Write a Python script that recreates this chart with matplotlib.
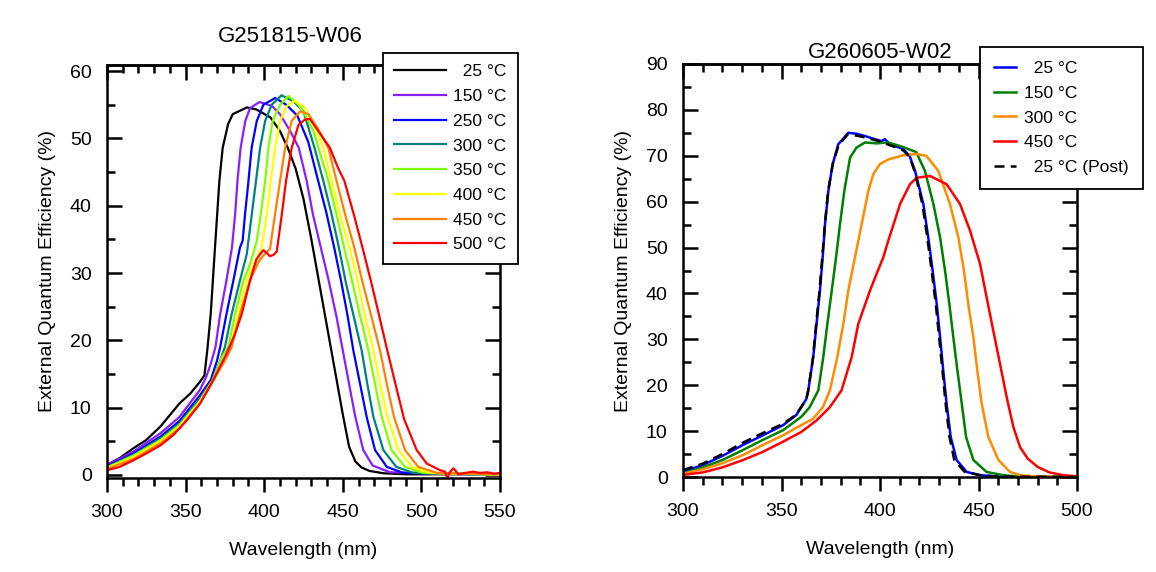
import numpy as np
import matplotlib
matplotlib.use("Agg")
import matplotlib.pyplot as plt
from matplotlib.ticker import MultipleLocator, NullFormatter

plt.rcParams['font.family'] = ['Liberation Sans', 'DejaVu Sans']

# -----------------------------
# Left panel: G251815-W06 (EQE vs wavelength, anneal temperature)
# -----------------------------
left_labels = ["  25 °C", "150 °C", "250 °C", "300 °C", "350 °C", "400 °C", "450 °C", "500 °C"]
left_colors = ["#000000", "#8B1EFF", "#0000FF", "#008080", "#80FF00", "#FFFF00", "#FF8000", "#FF0000"]

wl_25 = [300, 308, 317, 325, 334, 340, 346, 353, 359, 362, 364, 366, 368.7, 371.5, 373.6, 377, 380, 389,
         395, 404, 410, 415, 420, 425, 430, 435, 440, 445, 450, 454, 458, 462, 467, 476, 490, 550]
eqe_25 = [1.5, 2.5, 4.0, 5.2, 7.2, 8.9, 10.6, 12.1, 13.8, 14.8, 19, 24, 33.8, 43.7, 48.6, 52.1, 53.6, 54.6,
          54.3, 53.1, 51.1, 48.6, 45.5, 41, 35, 28.5, 22, 15.5, 9, 4.2, 2.0, 1.1, 0.6, 0.25, 0.1, 0.1]

wl_150 = [300, 317, 334, 346, 359, 363, 366, 369, 372, 376, 379.5, 381.5, 383, 385, 388, 391, 397, 405,
          410, 416.5, 422, 427, 431, 436, 441, 446, 450, 454, 458, 463, 469, 480, 550]
eqe_150 = [1.5, 3.5, 6.2, 8.6, 12.6, 14.5, 16.5, 19, 23.9, 28.9, 33.8, 38.7, 43.7, 48.6, 52.6, 54.5, 55.4, 54.8,
           53.6, 51.1, 48.6, 43.7, 38.7, 33.8, 28.9, 23.5, 18.5, 13.5, 8.6, 3.7, 1.4, 0.4, 0.1]

wl_250 = [300, 317, 334, 346, 359, 366, 370, 372, 376, 380.4, 384.6, 386.3, 387.8, 390, 392, 395.3, 399.5, 407,
          414, 421, 428, 434, 439.5, 444.5, 449, 453, 456.7, 461, 465.2, 470.5, 478, 488.5, 550]
eqe_250 = [1.3, 3.2, 5.7, 8.0, 11.8, 14.1, 17, 19, 23.9, 28.9, 33.8, 34.8, 38.7, 43.7, 48.6, 52.6, 55, 56,
           55, 53.4, 49.5, 44, 39, 33.8, 28.7, 23.7, 18.5, 13.5, 8.6, 3.7, 1.2, 0.3, 0.05]

wl_300 = [300, 317, 334, 346, 359, 367, 372, 375, 379.3, 384.6, 388.9, 392.1, 394.8, 397.4, 400.6, 404.8, 411,
          418.6, 425, 432, 437.6, 442.9, 447.5, 452, 457, 462, 465.6, 469.5, 475.8, 484, 495, 550]
eqe_300 = [1.2, 3.0, 5.4, 7.6, 11.3, 14.1, 17, 19, 23.9, 28.9, 32.8, 38.7, 43.7, 48.6, 52.6, 55, 56.4,
           55.5, 54, 48.6, 43.7, 38.7, 33.8, 28.5, 23.5, 18.5, 13.5, 8.6, 3.7, 1.2, 0.3, 0.05]

wl_350 = [300, 317, 334, 346, 359, 367, 373, 377.2, 381.5, 386.8, 391, 395.3, 397.8, 400.6, 402.7, 405.4, 410.1,
          415.4, 421.8, 426, 431.5, 434.5, 440.8, 446, 451, 456, 461, 466.3, 470.5, 474.8, 481, 489.6, 501, 550]
eqe_350 = [1.1, 2.9, 5.2, 7.4, 11.0, 14, 17.5, 19, 23.9, 28.9, 31.3, 34.8, 38.7, 43.7, 48.6, 52.6, 55,
           56.3, 55, 53.5, 51, 48.6, 43.7, 38.7, 33.6, 28.7, 23.6, 18.5, 13.5, 8.6, 3.7, 1.2, 0.3, 0.05]

wl_400 = [300, 317, 334, 346, 359, 367.5, 374, 378.3, 383.6, 388.9, 394.2, 398.4, 401.6, 404.2, 406.9, 410.1,
          414.3, 419.6, 426, 433.4, 437.6, 442.9, 448.2, 454.5, 459.5, 464, 469.5, 473.7, 478.4, 485.4, 494, 505.5, 550]
eqe_400 = [1.0, 2.7, 5.0, 7.2, 10.8, 14, 17, 19, 23.9, 28.9, 31.8, 33.8, 38.7, 43.7, 48.6, 52.6,
           54.8, 55.6, 54.5, 51.1, 48.6, 43.7, 38.7, 33.6, 28.7, 23.7, 18.5, 13.5, 8.6, 3.7, 1.2, 0.3, 0.05]

wl_450 = [300, 317, 334, 346, 359, 367.6, 375, 379.3, 384.6, 391, 396.3, 399.5, 403.7, 406.9, 410.1, 413.3,
          417.5, 422.8, 428.1, 434, 440.8, 446, 451.5, 457.5, 462.5, 468, 473.7, 478, 482.6, 489.6, 498, 510, 550]
eqe_450 = [0.9, 2.4, 4.7, 6.9, 10.6, 14, 17, 19, 23.9, 28.9, 31.6, 32.6, 33.6, 38.7, 43.7, 48.6,
           52.6, 54, 53.6, 51.5, 48.6, 43.7, 38.7, 33.6, 28.7, 23.7, 18.5, 13.5, 8.6, 3.7, 1.2, 0.3, 0.1]

wl_500 = [300, 308, 317, 325, 334, 342, 350.7, 359.2, 367.6, 376, 381.5, 385.7, 391, 395, 397.4, 399.5, 401.5,
          403.7, 406, 408, 411.2, 413.9, 417.5, 421.8, 426, 429, 434.4, 441.8, 447, 451, 457, 462.5, 468, 473,
          478, 483.5, 489, 497, 503.4, 511.9, 515, 516.5, 518, 520.4, 523.5, 528, 533, 537, 542, 546, 550]
eqe_500 = [0.7, 1.2, 2.2, 3.2, 4.4, 5.9, 8.1, 10.6, 14.1, 18, 21, 23.9, 28.9, 32, 32.8, 33.4, 33,
           32.5, 32.7, 33.2, 38.7, 43.7, 48.6, 52, 52.8, 52.9, 51.1, 48.6, 45.6, 43.7, 38.7, 33.8, 28.7, 23.8,
           18.8, 13.5, 8.3, 3.7, 1.7, 0.7, 0.5, -0.5, 0.4, 1.0, 0.1, 0.3, 0.5, 0.3, 0.4, 0.2, 0.3]

left_wl = [wl_25, wl_150, wl_250, wl_300, wl_350, wl_400, wl_450, wl_500]
left_eqe = [eqe_25, eqe_150, eqe_250, eqe_300, eqe_350, eqe_400, eqe_450, eqe_500]

# -----------------------------
# Right panel: G260605-W02
# -----------------------------
right_labels = ["  25 °C", "150 °C", "300 °C", "450 °C", "  25 °C (Post)"]
right_colors = ["#0000FF", "#008000", "#FF8C00", "#FF0000", "#000000"]
right_styles = ["-", "-", "-", "-", (0, (4, 2.5))]

r_wl_25 = [300, 310, 320, 330.5, 340.6, 350.8, 357.5, 360.1, 362.6, 363.6, 366.1, 367.8, 369.5, 370.9, 372.1,
           373.8, 376, 378.8, 383.9, 388.1, 392.4, 397.5, 400.8, 402.5, 405.1, 408.3, 411.7, 415, 417.8, 422,
           424.5, 426.7, 428.8, 430.5, 432.1, 433.8, 435.9, 438.9, 444, 450.8, 460, 500]
r_eqe_25 = [1.2, 2.6, 4.6, 7.0, 9.1, 11.3, 13.5, 15.3, 17, 18.9, 26.1, 33.4, 40.6, 47.9, 55.1,
            62.4, 68.2, 72.5, 75, 74.8, 74.3, 73.6, 73.2, 73.6, 72.5, 72, 71.5, 70, 66.7, 59.5,
            52.2, 45, 37.7, 30.5, 23.2, 16, 8.7, 3.7, 1.1, 0.4, 0.1, 0.0]

r_wl_150 = [300, 310, 320, 330.5, 340.6, 350.8, 360, 364.3, 368.7, 371.2, 373.3, 375.5, 377.7, 379.7, 381.9,
            384.8, 388.1, 392.4, 398.3, 403.4, 406.6, 411.7, 418.4, 422.8, 427.1, 430.5, 433, 435.2, 437.2,
            439.3, 441.5, 443.7, 447.4, 454.1, 462.6, 470, 500]
r_eqe_150 = [0.8, 2.1, 3.7, 5.9, 8.1, 10.2, 13.1, 15.2, 18.9, 26.1, 33.4, 40.6, 47.9, 55.1, 62.4,
             69.6, 71.8, 72.9, 72.7, 72.9, 72.6, 71.9, 70.8, 66.7, 59.5, 52.2, 45, 37.7, 30.5,
             23.2, 16, 8.7, 3.7, 1.1, 0.4, 0.1, 0]

r_wl_300 = [300, 310, 320, 330.5, 340.6, 350.8, 360, 366, 371, 374.6, 378.3, 381.4, 383.9, 387.3, 390.7, 394.1,
            396.6, 400, 404.2, 411.7, 418.4, 423.5, 429.6, 435.5, 439.8, 442.6, 444.8, 447.4, 449.4, 451.6,
            455, 460.1, 466, 471, 480, 500]
r_eqe_300 = [0.7, 1.7, 3.0, 4.8, 7.0, 9.1, 11.3, 12.7, 15.2, 18.9, 26.1, 33.4, 40.6, 47.9, 55.1, 62.4,
             66, 68.2, 69.2, 70.1, 70.4, 70, 66.7, 59.5, 52.2, 45, 37.7, 30.5, 23.2, 16,
             8.7, 3.7, 1.1, 0.4, 0.1, 0]

r_wl_450 = [300, 310, 320, 330.5, 340.6, 350.8, 360, 367.7, 374.5, 380.5, 385.6, 389, 394.9, 398.3, 401.7,
            404.2, 407, 410.2, 415.2, 418.6, 425.4, 433.8, 440.6, 445.7, 450.8, 454.1, 457.5, 460.9, 464.3,
            467.7, 471.1, 475, 480, 486, 493, 500]
r_eqe_450 = [0.45, 1.0, 2.1, 3.7, 5.5, 7.7, 9.8, 12.3, 15.2, 18.9, 26.1, 33.4, 40.6, 44.3, 47.9,
             51.5, 55.2, 59.5, 63.8, 65.2, 65.6, 63.8, 59.5, 53.7, 46.4, 39.2, 31.9, 24.7, 17.4,
             10.9, 6.5, 4.0, 2.2, 1.0, 0.4, 0.15]

r_wl_post = [300, 310, 320, 330.5, 340.6, 350.8, 357.5, 360.1, 362.6, 363.6, 366, 367.6, 369.3, 370.7, 372,
             373.7, 376, 379, 383.5, 388, 392.4, 397.5, 401, 405, 408.3, 411.7, 415, 417.5, 421.5, 424,
             426.2, 428.3, 430, 431.7, 433.3, 435.3, 437.7, 443, 450.8, 460, 500]
r_eqe_post = [1.5, 2.9, 5.0, 7.5, 9.6, 11.6, 13.6, 15.3, 17, 18.9, 26.1, 33.4, 40.6, 47.9, 55.1,
              62.4, 68.2, 72.3, 74.6, 74.4, 74, 73.4, 73, 72.3, 71.8, 71.2, 69.8, 66.7, 59.5, 52.2,
              45, 37.7, 30.5, 23.2, 16, 8.7, 3.7, 1.1, 0.4, 0.1, 0]

right_wl = [r_wl_25, r_wl_150, r_wl_300, r_wl_450, r_wl_post]
right_eqe = [r_eqe_25, r_eqe_150, r_eqe_300, r_eqe_450, r_eqe_post]

# -----------------------------
# Figure
# -----------------------------
fig = plt.figure(figsize=(11.56, 5.72), dpi=100)
axL = fig.add_axes([107 / 1156, 1 - 478 / 572, 393 / 1156, 413 / 572])
axR = fig.add_axes([683 / 1156, 1 - 477 / 572, 394 / 1156, 413 / 572])

FS = 14
TW = 1.8


def style_axes(ax, xmaj, ymaj, ymin_step):
    ax.xaxis.set_major_locator(MultipleLocator(xmaj))
    ax.xaxis.set_minor_locator(MultipleLocator(10))
    ax.yaxis.set_major_locator(MultipleLocator(ymaj))
    ax.yaxis.set_minor_locator(MultipleLocator(ymin_step))
    # y: inward ticks on both sides; x bottom: outward
    ax.tick_params(axis="y", which="both", direction="in", left=True, right=True,
                   width=TW, labelsize=FS)
    ax.tick_params(axis="y", which="major", length=11, pad=11)
    ax.tick_params(axis="y", which="minor", length=6)
    ax.tick_params(axis="x", which="both", direction="out", top=False, width=TW, labelsize=FS)
    ax.tick_params(axis="x", which="major", length=10, pad=9)
    ax.tick_params(axis="x", which="minor", length=6)
    # top ticks pointing inward
    top = ax.secondary_xaxis("top")
    top.xaxis.set_major_locator(MultipleLocator(xmaj))
    top.xaxis.set_minor_locator(MultipleLocator(10))
    top.xaxis.set_major_formatter(NullFormatter())
    top.tick_params(which="both", direction="in", width=TW)
    top.tick_params(which="major", length=11)
    top.tick_params(which="minor", length=6)
    top.spines["top"].set_linewidth(TW)
    for sp in ax.spines.values():
        sp.set_linewidth(TW)
    ax.set_xlabel("Wavelength (nm)", fontsize=FS, labelpad=15)
    ax.set_ylabel("External Quantum Efficiency (%)", fontsize=FS, labelpad=10)


for wl, eqe, lab, col in zip(left_wl, left_eqe, left_labels, left_colors):
    axL.plot(wl, eqe, color=col, lw=1.6, label=lab)
axL.set_xlim(300, 550)
axL.set_ylim(-0.45, 60.9)
style_axes(axL, 50, 10, 5)
axL.text(0.466, 1.07, "G251815-W06", transform=axL.transAxes, ha="center", va="center", fontsize=16)
legL = axL.legend(loc="upper left", bbox_to_anchor=(0.702, 1.029), borderaxespad=0, fontsize=12.5,
                  handlelength=3.0, handletextpad=0.4, labelspacing=0.55, borderpad=0.65,
                  fancybox=False, framealpha=1, edgecolor="black")
legL.get_frame().set_linewidth(1.3)

for wl, eqe, lab, col, ls in zip(right_wl, right_eqe, right_labels, right_colors, right_styles):
    axR.plot(wl, eqe, color=col, lw=1.8, ls=ls, label=lab)
axR.set_xlim(300, 500)
axR.set_ylim(0, 90)
style_axes(axR, 50, 10, 5)
axR.text(0.5, 1.028, "G260605-W02", transform=axR.transAxes, ha="center", va="center", fontsize=16)
legR = axR.legend(loc="upper left", bbox_to_anchor=(0.754, 1.041), borderaxespad=0, fontsize=12.5,
                  handlelength=1.25, handletextpad=0.5, labelspacing=0.55, borderpad=0.8,
                  fancybox=False, framealpha=1, edgecolor="black")
legR.get_frame().set_linewidth(1.3)

fig.savefig("out.png", dpi=100)
